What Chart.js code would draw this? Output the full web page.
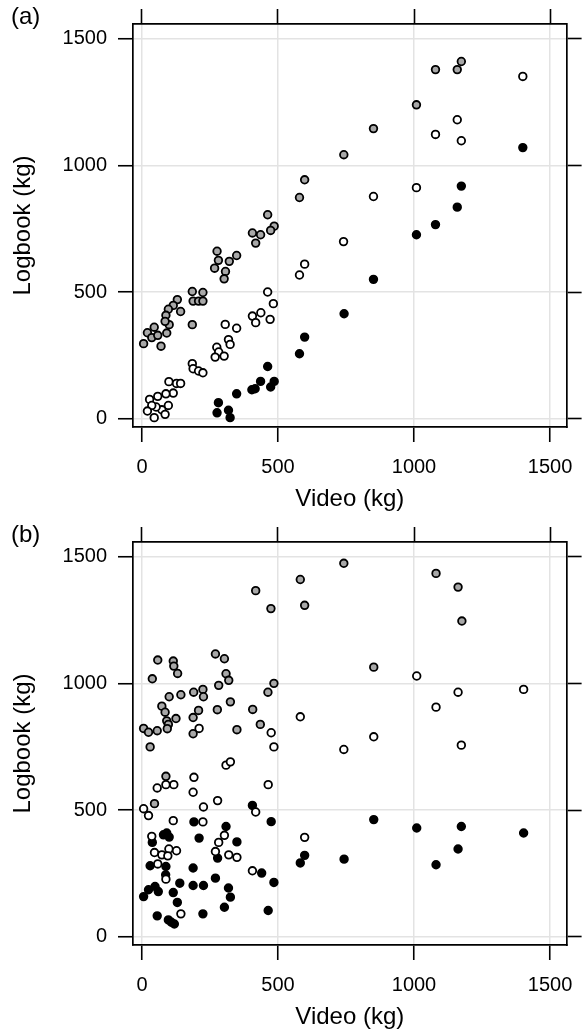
<!DOCTYPE html>
<html><head><meta charset="utf-8">
<script src="https://cdn.jsdelivr.net/npm/chart.js@4.4.0/dist/chart.umd.min.js"></script>
<style>
html,body{margin:0;padding:0;background:#fff;width:586px;height:1033px;overflow:hidden}
canvas{position:absolute;left:0}
#ca{top:0}
#cb{top:515px}
</style></head><body>
<canvas id="ca" width="586" height="518"></canvas>
<canvas id="cb" width="586" height="518"></canvas>
<script>
// ---- tick labels & titles ----
const xTicks = [0, 500, 1000, 1500];
const yTicks = [0, 500, 1000, 1500];
const xTitle = 'Video (kg)';
const yTitle = 'Logbook (kg)';
const panelLabels = ['(a)', '(b)'];

// ---- panel (a) ----
const aBlackX = [743,598,579,462,486,473,436,416,404,348,281,276,318,324,851,1009,1079,1159,1174,1400];
const aBlackY = [415,323,257,207,148,126,148,119,115,99,64,24,34,5,551,727,767,836,919,1071];

const aWhiteX = [1400,1159,1079,1174,1009,851,741,598,579,462,483,437,406,471,418,306,348,318,324,275,282,269,302,185,188,208,224,99,127,142,115,88,58,28,97,73,52,36,20,85,45];
const aWhiteY = [1352,1181,1123,1098,913,878,700,611,568,501,455,419,406,393,380,373,358,313,294,283,264,244,248,218,198,189,182,147,140,140,102,99,89,77,53,36,47,53,31,18,5];

const aGrayX = [742,598,579,462,1174,1159,1079,1009,851,486,473,406,436,418,276,281,267,321,348,307,302,185,224,188,208,224,185,130,115,142,97,88,100,85,91,45,20,36,58,6,70];
const aGrayY = [1043,944,874,806,1411,1379,1379,1240,1146,761,744,734,727,694,662,626,595,622,645,582,553,503,499,465,465,465,372,471,448,424,433,409,372,385,339,362,340,321,330,297,287];

// ---- panel (b) ----
const bBlackX = [406,475,191,309,349,210,79,100,91,38,278,30,88,188,87,440,270,485,139,48,24,60,6,115,188,226,318,325,130,303,464,224,56,97,119,108,598,582,743,852,1010,1174,1403,1162,1081];
const bBlackY = [519,455,454,436,375,390,403,394,410,373,311,281,278,272,245,252,232,215,212,199,186,179,159,175,203,203,193,157,136,117,104,91,83,67,51,58,322,292,307,463,430,436,410,347,285];

const bWhiteX = [582,210,475,485,742,309,325,56,88,117,191,188,464,278,226,6,24,418,224,115,303,282,36,46,73,99,127,95,270,319,349,58,88,406,143,598,1010,1162,1081,1403,852,1174];
const bWhiteY = [869,823,806,750,740,678,691,588,601,601,630,571,601,538,513,506,479,493,454,459,401,373,397,333,324,347,340,320,337,324,314,288,228,261,91,393,1030,966,907,977,790,757];

const bGrayX = [742,582,598,418,474,270,303,58,115,117,131,38,309,319,282,485,463,100,143,190,224,226,325,277,407,73,85,208,188,125,91,97,93,6,24,56,188,349,435,30,88,46,1081,1162,1176,852];
const bGrayY = [1475,1411,1309,1367,1296,1117,1098,1093,1089,1069,1040,1019,1039,1013,993,1001,966,948,956,966,977,948,928,897,898,911,887,894,866,862,853,839,822,823,808,814,802,818,839,750,634,526,1435,1381,1247,1065];

// ---- style ----
const FONT = '"Liberation Sans", Arial, Helvetica, sans-serif';
Chart.defaults.font.family = FONT;
Chart.defaults.color = '#000';

function pts(xs, ys) { return xs.map((x, i) => ({x: x, y: ys[i]})); }

function ds(data, fill) {
  return {data: data, backgroundColor: fill, borderColor: '#000', borderWidth: 1.8,
          pointRadius: 3.8, pointHoverRadius: 3.8, pointStyle: 'circle'};
}

function makeChart(id, label, series, lay) {
  const fixTicks = s => { s.ticks = s.axis === 'x' ? xTicks.map(v => ({value: v})) : yTicks.map(v => ({value: v})); };
  const grid = {color: '#e3e3e3', lineWidth: 1.5, tickColor: '#000', tickWidth: 1.6, tickLength: 15};
  const noGrid = {drawOnChartArea: false, tickColor: '#000', tickWidth: 1.6, tickLength: 15};
  const border = {display: true, color: '#000', width: 1.7};
  const range = {x: [-33, 1561], y: [-32, 1559]};
  const labelPlugin = {
    id: 'panelLabel',
    afterDraw(chart) {
      const c = chart.ctx;
      c.save();
      c.font = '24px ' + FONT;
      c.fillStyle = '#000';
      c.textBaseline = 'middle';
      c.textAlign = 'left';
      c.fillText(label, 11, lay.top - 7);
      c.restore();
    }
  };
  return new Chart(document.getElementById(id), {
    type: 'scatter',
    data: {datasets: [ds(series[2], '#a8a8a8'), ds(series[1], '#ffffff'), ds(series[0], '#000000')]},
    options: {
      responsive: false, animation: false, devicePixelRatio: 1,
      layout: {padding: 0},
      plugins: {legend: {display: false}, tooltip: {enabled: false}},
      events: [],
      scales: {
        x: {type: 'linear', position: 'bottom', min: range.x[0], max: range.x[1],
            afterBuildTicks: fixTicks, grid: grid, border: border,
            ticks: {font: {size: 20}, padding: 13, maxRotation: 0, autoSkip: false, callback: v => String(v)},
            title: {display: true, text: xTitle, font: {size: 24}, padding: {top: 0, bottom: lay.titlePad}},
            afterFit: s => { s.height = lay.bottom; }},
        x2: {type: 'linear', position: 'top', axis: 'x', min: range.x[0], max: range.x[1],
            afterBuildTicks: fixTicks, grid: noGrid, border: border,
            ticks: {display: false},
            afterFit: s => { s.height = lay.top; }},
        y: {type: 'linear', position: 'left', min: range.y[0], max: range.y[1],
            afterBuildTicks: fixTicks, grid: grid, border: border,
            ticks: {font: {size: 20}, padding: 11, autoSkip: false, callback: v => String(v)},
            title: {display: true, text: yTitle, font: {size: 24}, padding: {top: 8.5, bottom: 0}},
            afterFit: s => { s.width = 133; }},
        y2: {type: 'linear', position: 'right', axis: 'y', min: range.y[0], max: range.y[1],
            afterBuildTicks: fixTicks, grid: noGrid, border: border,
            ticks: {display: false},
            afterFit: s => { s.width = 16; }}
      }
    },
    plugins: [labelPlugin]
  });
}

makeChart('ca', panelLabels[0],
  [pts(aBlackX, aBlackY), pts(aWhiteX, aWhiteY), pts(aGrayX, aGrayY)],
  {top: 24, bottom: 91, titlePad: 4.6});
makeChart('cb', panelLabels[1],
  [pts(bBlackX, bBlackY), pts(bWhiteX, bWhiteY), pts(bGrayX, bGrayY)],
  {top: 27, bottom: 88, titlePad: 1.6});
</script>
</body></html>
